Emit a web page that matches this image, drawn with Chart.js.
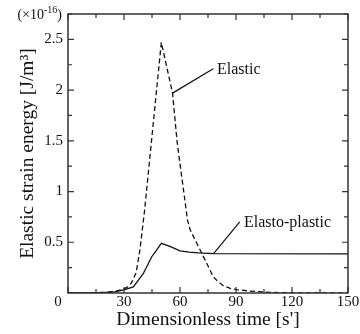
<!DOCTYPE html>
<html>
<head>
<meta charset="utf-8">
<script src="https://cdn.jsdelivr.net/npm/chart.js@4/dist/chart.umd.min.js"></script>
<style>
  html, body { margin: 0; padding: 0; background: #fff; }
  #wrap { width: 360px; height: 334px; }
</style>
</head>
<body>
<div id="wrap"><canvas id="energia"></canvas></div>
<script>
// datos
var tiempoElastico = [0, 10, 20, 26, 30, 32, 34, 36.5, 38.5, 41, 50, 56, 58.4, 60, 62, 64, 65.5, 72, 77.8, 80.5, 83.2, 87, 90.4, 97, 104.6, 113, 125, 150];
var energiaElastico = [0, 0.002, 0.006, 0.02, 0.04, 0.06, 0.1, 0.2, 0.42, 0.81, 2.47, 1.97, 1.5, 1.27, 1.0, 0.72, 0.62, 0.38, 0.16, 0.11, 0.072, 0.045, 0.033, 0.02, 0.01, 0.004, 0.001, 0];
var tiempoPlastico = [0, 10, 20, 25, 30, 35, 40.3, 44.8, 50, 54.6, 60, 65, 70, 78, 150];
var energiaPlastico = [0, 0.002, 0.006, 0.012, 0.03, 0.06, 0.19, 0.355, 0.49, 0.46, 0.415, 0.403, 0.395, 0.388, 0.385];

var ticksX = [0, 30, 60, 90, 120, 150];
var ticksY = [0.5, 1, 1.5, 2, 2.5];
var menoresX = [15, 45, 75, 105, 135];
var menoresY = [0.25, 0.75, 1.25, 1.75, 2.25, 2.75];

var notas = [
  { texto: 'Elastic', desde: [56, 1.97], hasta: [77.8, 2.21], en: [79.8, 2.2] },
  { texto: 'Elasto-plastic', desde: [78, 0.388], hasta: [92, 0.7], en: [94.3, 0.69] }
];

var serif = '"Liberation Serif", "Times New Roman", serif';

function puntos(xs, ys) {
  var out = [];
  for (var i = 0; i < xs.length; i++) out.push({ x: xs[i], y: ys[i] });
  return out;
}

var marco = {
  id: 'marco',
  afterDatasetsDraw: function(chart) {
    var ctx = chart.ctx, a = chart.chartArea;
    var sx = chart.scales.x, sy = chart.scales.y;
    ctx.save();
    ctx.strokeStyle = '#333';
    ctx.lineWidth = 1.5;
    ctx.strokeRect(a.left, a.top, a.right - a.left, a.bottom - a.top);

    ctx.lineWidth = 1.2;
    ctx.beginPath();
    function tx(v, len) {
      var p = sx.getPixelForValue(v);
      ctx.moveTo(p, a.bottom); ctx.lineTo(p, a.bottom - len);
      ctx.moveTo(p, a.top); ctx.lineTo(p, a.top + len);
    }
    function ty(v, len) {
      var p = sy.getPixelForValue(v);
      ctx.moveTo(a.left, p); ctx.lineTo(a.left + len, p);
      ctx.moveTo(a.right, p); ctx.lineTo(a.right - len, p);
    }
    ticksX.forEach(function(v){ tx(v, 6); });
    menoresX.forEach(function(v){ tx(v, 4); });
    ticksY.forEach(function(v){ ty(v, 6); });
    menoresY.forEach(function(v){ ty(v, 4); });
    ctx.stroke();

    // etiquetas con lineas guia
    ctx.strokeStyle = '#111';
    ctx.lineWidth = 1.2;
    ctx.fillStyle = '#111';
    ctx.font = '16px ' + serif;
    ctx.textBaseline = 'middle';
    ctx.textAlign = 'left';
    notas.forEach(function(n){
      ctx.beginPath();
      ctx.moveTo(sx.getPixelForValue(n.desde[0]), sy.getPixelForValue(n.desde[1]));
      ctx.lineTo(sx.getPixelForValue(n.hasta[0]), sy.getPixelForValue(n.hasta[1]));
      ctx.stroke();
      ctx.fillText(n.texto, sx.getPixelForValue(n.en[0]), sy.getPixelForValue(n.en[1]));
    });

    // origen "0"
    ctx.font = '15px ' + serif;
    ctx.textAlign = 'center';
    ctx.fillText('0', sx.getPixelForValue(0) - 10, a.bottom + 9);

    // factor de escala (x10^-16)
    ctx.textBaseline = 'alphabetic';
    ctx.textAlign = 'left';
    var base = a.top + 5;
    ctx.font = '14px ' + serif;
    var w1 = ctx.measureText('(\u00d710').width;
    var w3 = ctx.measureText(')').width;
    ctx.font = '10px ' + serif;
    var w2 = ctx.measureText('-16').width;
    var x0 = a.left - 6 - (w1 + w2 + w3);
    ctx.font = '14px ' + serif;
    ctx.fillText('(\u00d710', x0, base);
    ctx.fillText(')', x0 + w1 + w2, base);
    ctx.font = '10px ' + serif;
    ctx.fillText('-16', x0 + w1, base - 6);
    ctx.restore();
  }
};

var config = {
  type: 'line',
  data: {
    datasets: [{
      label: 'Elastic',
      data: puntos(tiempoElastico, energiaElastico),
      borderColor: '#111',
      borderWidth: 1.3,
      borderDash: [5, 3],
      pointRadius: 0,
      tension: 0,
      fill: false
    }, {
      label: 'Elasto-plastic',
      data: puntos(tiempoPlastico, energiaPlastico),
      borderColor: '#111',
      borderWidth: 1.3,
      pointRadius: 0,
      tension: 0,
      fill: false
    }]
  },
  options: {
    responsive: true,
    maintainAspectRatio: false,
    animation: false,
    layout: { padding: { top: 13, right: 12, left: 0, bottom: 0 } },
    plugins: { legend: { display: false }, tooltip: { enabled: false } },
    scales: {
      x: {
        type: 'linear',
        min: 0, max: 150,
        grid: { display: false, drawTicks: false },
        border: { display: false },
        afterBuildTicks: function(s){ s.ticks = ticksX.map(function(v){ return { value: v }; }); },
        afterFit: function(s){ s.height = 41; },
        ticks: {
          padding: 0,
          color: '#111',
          font: { family: serif, size: 15 },
          maxRotation: 0,
          callback: function(v){ return v === 0 ? '' : String(v); }
        },
        title: {
          display: true,
          text: "Dimensionless time [s']",
          color: '#111',
          font: { family: serif, size: 19.5 },
          padding: { top: 0, bottom: 2 }
        }
      },
      y: {
        min: 0, max: 2.75,
        grid: { display: false, drawTicks: false },
        border: { display: false },
        afterBuildTicks: function(s){ s.ticks = ticksY.map(function(v){ return { value: v }; }); },
        afterFit: function(s){ s.width = 68; },
        ticks: {
          padding: 5,
          color: '#111',
          font: { family: serif, size: 15 },
          callback: function(v){ return String(v); }
        },
        title: {
          display: true,
          text: 'Elastic strain energy [J/m\u00b3]',
          color: '#111',
          font: { family: serif, size: 19.5 },
          padding: { top: 16, bottom: 0 }
        }
      }
    }
  },
  plugins: [marco]
};

var lienzo = document.getElementById('energia').getContext('2d');
window.grafica = new Chart(lienzo, config);
</script>
</body>
</html>
